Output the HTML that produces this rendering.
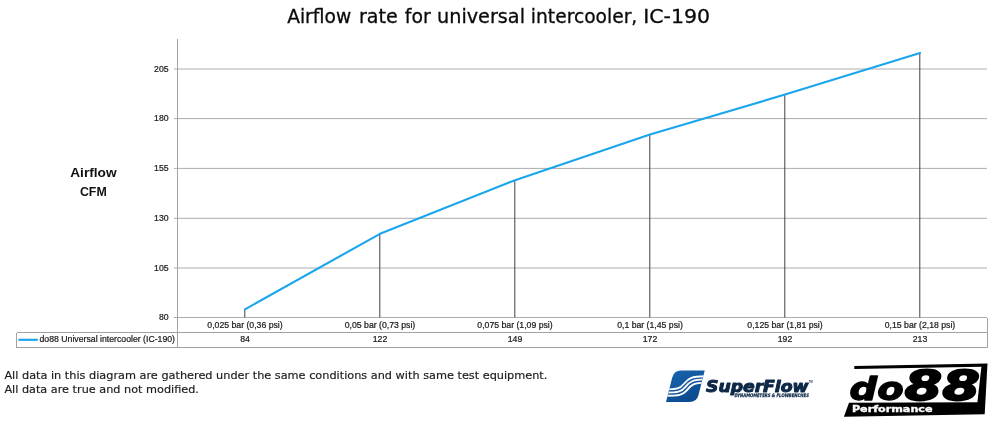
<!DOCTYPE html>
<html>
<head>
<meta charset="utf-8">
<title>Airflow rate for universal intercooler, IC-190</title>
<style>
  html, body { margin: 0; padding: 0; background: #ffffff; }
  body { width: 1000px; height: 423px; overflow: hidden; position: relative; }
  svg { position: absolute; left: 0; top: 0; display: block; }
  .title { font-family: "DejaVu Sans", "Liberation Sans", sans-serif; font-size: 20px; fill: #0a0a0a; stroke: #0a0a0a; stroke-width: 0.3px; }
  .foot { font-family: "DejaVu Sans", "Liberation Sans", sans-serif; font-size: 11px; fill: #1c1c1c; stroke: #1c1c1c; stroke-width: 0.18px; }
  .ax { font-family: "Liberation Sans", sans-serif; font-size: 8.7px; fill: #1a1a1a; stroke: #1a1a1a; stroke-width: 0.22px; }
  .ylab { font-family: "Liberation Sans", sans-serif; font-weight: bold; font-size: 12.6px; fill: #111111; }
</style>
</head>
<body>
<svg width="1000" height="423" viewBox="0 0 1000 423">
  <rect x="0" y="0" width="1000" height="423" fill="#ffffff"/>

  <!-- title -->
  <g class="title">
    <text x="287.2" y="23" textLength="64" lengthAdjust="spacingAndGlyphs">Airflow</text>
    <text x="359" y="23" textLength="38.8" lengthAdjust="spacingAndGlyphs">rate</text>
    <text x="404.8" y="23" textLength="26" lengthAdjust="spacingAndGlyphs">for</text>
    <text x="437" y="23" textLength="88" lengthAdjust="spacingAndGlyphs">universal</text>
    <text x="530.8" y="23" textLength="106.5" lengthAdjust="spacingAndGlyphs">intercooler,</text>
    <text x="643.2" y="23" textLength="67" lengthAdjust="spacingAndGlyphs">IC-190</text>
  </g>

  <!-- gridlines -->
  <g stroke="#adadad" stroke-width="1">
    <line x1="174" y1="69" x2="987" y2="69"/>
    <line x1="174" y1="118.6" x2="987" y2="118.6"/>
    <line x1="174" y1="168.4" x2="987" y2="168.4"/>
    <line x1="174" y1="218.3" x2="987" y2="218.3"/>
    <line x1="174" y1="268" x2="987" y2="268"/>
    <line x1="174" y1="317.5" x2="987" y2="317.5"/>
  </g>
  <!-- axis + table -->
  <g stroke="#a2a2a2" stroke-width="1" fill="none" shape-rendering="crispEdges">
    <line x1="177.5" y1="39" x2="177.5" y2="347.5"/>
    <line x1="16.5" y1="332.5" x2="987.5" y2="332.5"/>
    <line x1="16.5" y1="347.5" x2="987.5" y2="347.5"/>
    <line x1="16.5" y1="332.5" x2="16.5" y2="347.5"/>
    <line x1="987.5" y1="317.5" x2="987.5" y2="347.5"/>
  </g>

  <!-- drop lines -->
  <g stroke="#404040" stroke-width="1">
    <line x1="244.8" y1="309.3" x2="244.8" y2="317.5"/>
    <line x1="379.8" y1="233.8" x2="379.8" y2="317.5"/>
    <line x1="514.8" y1="180.2" x2="514.8" y2="317.5"/>
    <line x1="649.8" y1="134.4" x2="649.8" y2="317.5"/>
    <line x1="784.8" y1="94.6" x2="784.8" y2="317.5"/>
    <line x1="919.8" y1="52.9" x2="919.8" y2="317.5"/>
  </g>

  <!-- data line -->
  <polyline fill="none" stroke="#1aa6ec" stroke-width="2.1" stroke-linejoin="round" stroke-linecap="round"
    points="245,309.3 380,233.8 515,180.2 650,134.4 785,94.6 920,52.9"/>

  <!-- y tick labels -->
  <g class="ax" text-anchor="end">
    <text x="168.6" y="71.5">205</text>
    <text x="168.6" y="121.1">180</text>
    <text x="168.6" y="170.9">155</text>
    <text x="168.6" y="220.8">130</text>
    <text x="168.6" y="270.5">105</text>
    <text x="168.6" y="320.1">80</text>
  </g>

  <!-- y axis title -->
  <g class="ylab" text-anchor="middle">
    <text x="93.4" y="177.2" textLength="46.4" lengthAdjust="spacingAndGlyphs">Airflow</text>
    <text x="93.3" y="195.8" textLength="26.8" lengthAdjust="spacingAndGlyphs">CFM</text>
  </g>

  <!-- category labels -->
  <g class="ax" text-anchor="middle">
    <text x="245" y="327.5">0,025 bar (0,36 psi)</text>
    <text x="380" y="327.5">0,05 bar (0,73 psi)</text>
    <text x="515" y="327.5">0,075 bar (1,09 psi)</text>
    <text x="650" y="327.5">0,1 bar (1,45 psi)</text>
    <text x="785" y="327.5">0,125 bar (1,81 psi)</text>
    <text x="920" y="327.5">0,15 bar (2,18 psi)</text>
    <text x="245" y="342.4">84</text>
    <text x="380" y="342.4">122</text>
    <text x="515" y="342.4">149</text>
    <text x="650" y="342.4">172</text>
    <text x="785" y="342.4">192</text>
    <text x="920" y="342.4">213</text>
  </g>

  <!-- legend -->
  <line x1="18.5" y1="339.8" x2="37.8" y2="339.8" stroke="#1ca5ea" stroke-width="2.2"/>
  <text class="ax" x="39.5" y="342.4" textLength="135.5" lengthAdjust="spacingAndGlyphs">do88 Universal intercooler (IC-190)</text>

  <!-- footnote -->
  <text class="foot" x="4.4" y="379" textLength="543" lengthAdjust="spacingAndGlyphs">All data in this diagram are gathered under the same conditions and with same test equipment.</text>
  <text class="foot" x="4.4" y="392.5" textLength="194.5" lengthAdjust="spacingAndGlyphs">All data are true and not modified.</text>

  <!-- SuperFlow logo -->
  <g id="superflow">
    <defs>
      <linearGradient id="sfg" x1="0.2" y1="0" x2="0.8" y2="1">
        <stop offset="0" stop-color="#1764ad"/>
        <stop offset="1" stop-color="#0a488c"/>
      </linearGradient>
      <clipPath id="sfclip">
        <path d="M666,402 L672.2,377.5 Q674,370.4 681,370.4 L704.7,370.4 L698.5,395 Q696.8,402 689.5,402 Z"/>
      </clipPath>
    </defs>
    <path d="M666,402 L672.2,377.5 Q674,370.4 681,370.4 L704.7,370.4 L698.5,395 Q696.8,402 689.5,402 Z" fill="url(#sfg)"/>
    <g clip-path="url(#sfclip)" fill="none" stroke="#ffffff" stroke-width="1.85">
      <path d="M664,389.4 C677,389.4 680,388.8 684,383.7 C688,378.6 691,376.2 706,376.2"/>
      <path d="M664,392.6 C678,392.6 681.5,392 685.5,386.9 C689.5,381.8 692.5,379.4 706,379.4"/>
      <path d="M664,395.8 C679,395.8 683,395.2 687,390.1 C691,385 694,382.6 706,382.6"/>
    </g>
    <text x="706" y="391.8" font-family="'DejaVu Sans', 'Liberation Sans', sans-serif" font-weight="bold" font-style="italic" font-size="15.9" fill="#0e2947" stroke="#0e2947" stroke-width="1" stroke-linejoin="round" textLength="102.5" lengthAdjust="spacingAndGlyphs">SuperFlow</text>
    <text x="809" y="383.3" font-family="'Liberation Sans', sans-serif" font-weight="bold" font-size="2.6" fill="#0e2947">TM</text>
    <text x="734.4" y="396.7" font-family="'DejaVu Sans', 'Liberation Sans', sans-serif" font-weight="bold" font-style="italic" font-size="4.8" fill="#0e2947" stroke="#0e2947" stroke-width="0.25" textLength="74.5" lengthAdjust="spacingAndGlyphs">DYNAMOMETERS &amp; FLOWBENCHES</text>
  </g>

  <!-- do88 logo -->
  <g id="do88">
    <!-- top bar -->
    <path d="M854.3,366 L987.5,363.6 L984.7,414.3 L843.9,416.7 L849,402.8 L977.4,402.2 L981.4,366.8 L854.3,369 Z" fill="#000000"/>
    <text x="849.6" y="399.8" font-family="'DejaVu Sans', 'Liberation Sans', sans-serif" font-weight="bold" font-style="italic" font-size="31.5" fill="#000" stroke="#000" stroke-width="1.3" stroke-linejoin="round" textLength="54" lengthAdjust="spacingAndGlyphs">do</text>
    <text x="904.5" y="399.6" font-family="'DejaVu Sans', 'Liberation Sans', sans-serif" font-weight="bold" font-style="italic" font-size="41" fill="#000" stroke="#000" stroke-width="1.8" stroke-linejoin="round" textLength="75.5" lengthAdjust="spacingAndGlyphs">88</text>
    <text x="851.9" y="412" font-family="'DejaVu Sans', 'Liberation Sans', sans-serif" font-weight="bold" font-size="8.6" fill="#fff" stroke="#fff" stroke-width="0.35" textLength="80.7" lengthAdjust="spacingAndGlyphs">Performance</text>
  </g>
</svg>
</body>
</html>
